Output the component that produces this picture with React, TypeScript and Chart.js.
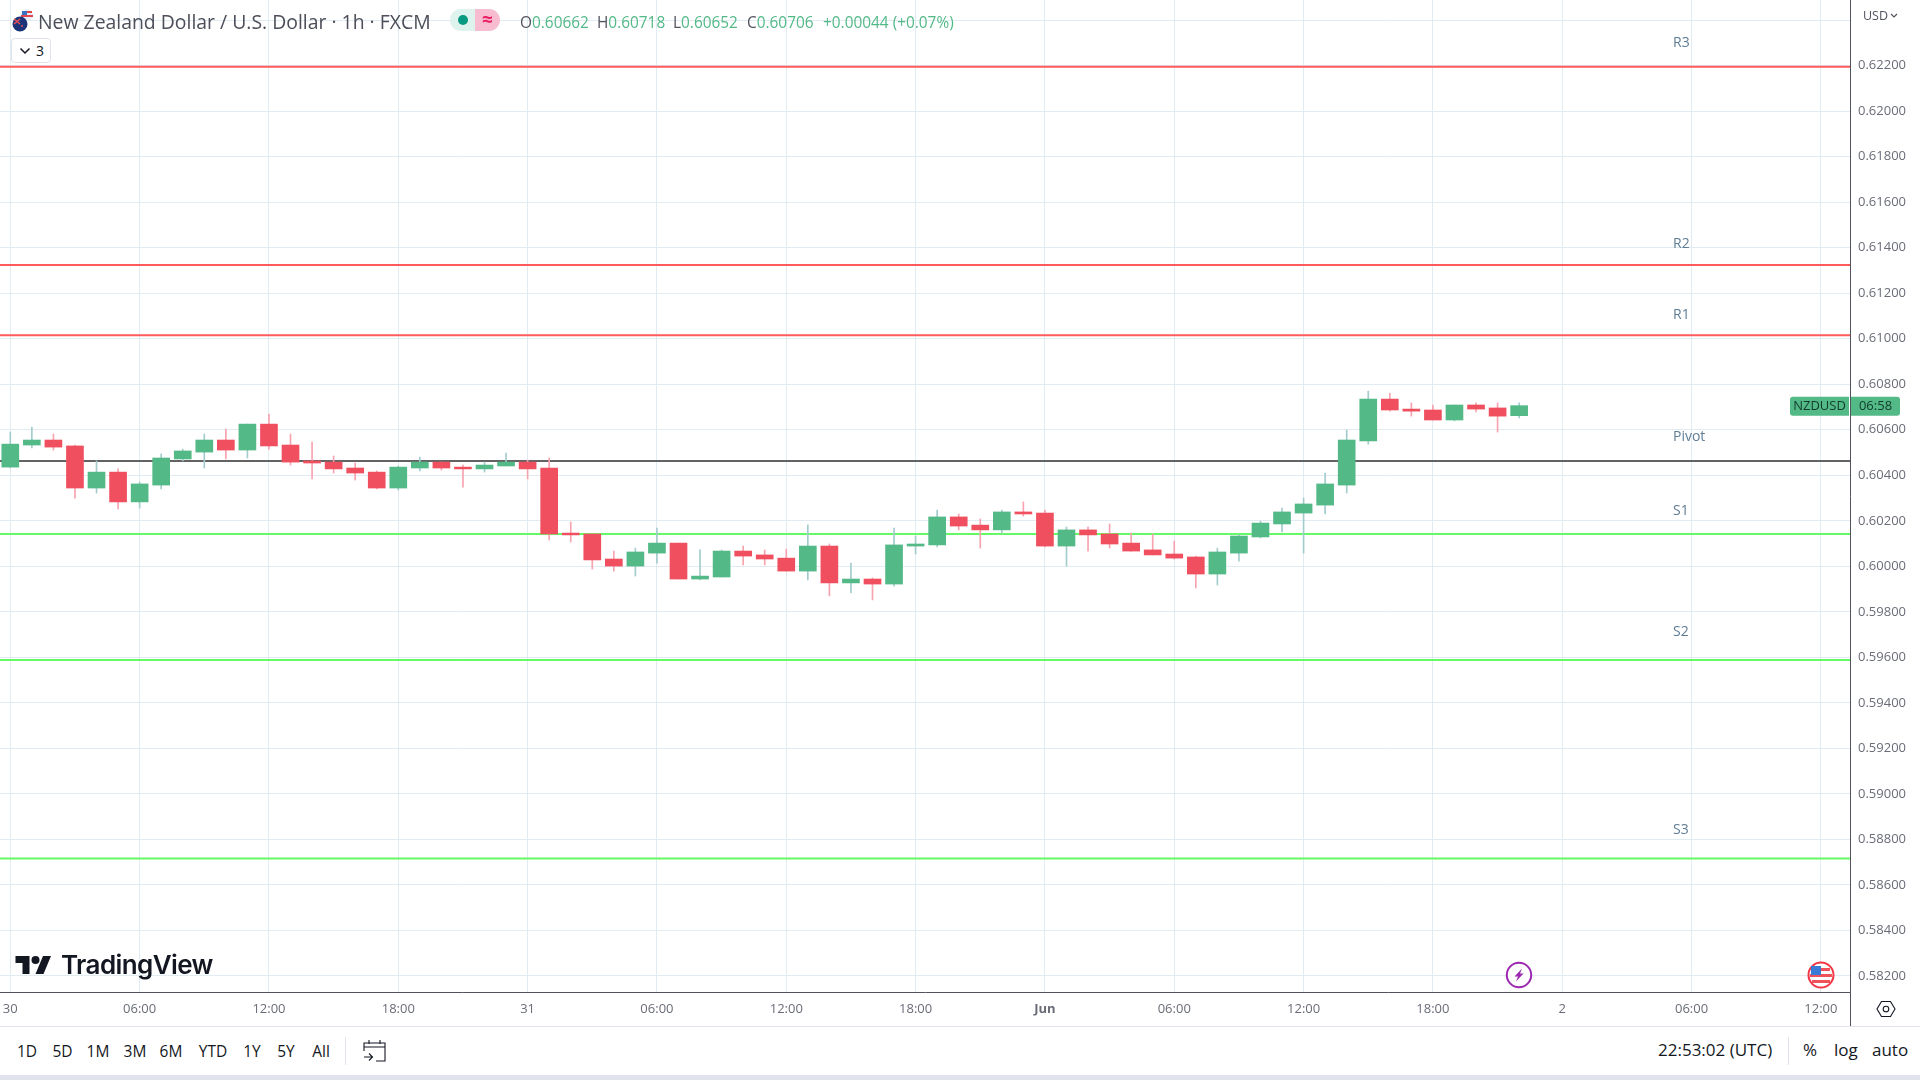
import React, { useRef, useEffect } from 'react';
import { Chart, registerables } from 'chart.js';

Chart.register(...registerables);

const opens = [0.60436, 0.60533, 0.60555, 0.60529, 0.60344, 0.60414, 0.60283, 0.60357, 0.60472, 0.60502, 0.60555, 0.60511, 0.60625, 0.60533, 0.60463, 0.60458, 0.60432, 0.60414, 0.60344, 0.60432, 0.60458, 0.60436, 0.60428, 0.60441, 0.60458, 0.60432, 0.60146, 0.60142, 0.60032, 0.60001, 0.60058, 0.60102, 0.59944, 0.59953, 0.60067, 0.6005, 0.60036, 0.59979, 0.60089, 0.59927, 0.59944, 0.59922, 0.60089, 0.60094, 0.60217, 0.60181, 0.6016, 0.60239, 0.60234, 0.60089, 0.6016, 0.60142, 0.60102, 0.60072, 0.60054, 0.60041, 0.59966, 0.60058, 0.60129, 0.60186, 0.60234, 0.60269, 0.60357, 0.60551, 0.60735, 0.60691, 0.60687, 0.60643, 0.60709, 0.60696, 0.60662];
const highs = [0.6059, 0.60612, 0.60581, 0.60533, 0.60463, 0.60428, 0.6037, 0.60494, 0.60515, 0.60581, 0.60603, 0.60625, 0.60669, 0.60581, 0.60546, 0.60485, 0.60454, 0.60419, 0.60441, 0.6048, 0.60458, 0.60445, 0.60458, 0.60498, 0.60467, 0.60476, 0.60195, 0.60142, 0.60067, 0.6008, 0.60168, 0.60102, 0.60072, 0.60072, 0.60089, 0.60072, 0.60076, 0.60182, 0.60098, 0.60014, 0.59949, 0.60168, 0.60133, 0.60247, 0.6023, 0.60208, 0.60247, 0.60283, 0.60247, 0.60173, 0.60173, 0.60186, 0.60146, 0.60142, 0.60111, 0.60045, 0.6008, 0.60138, 0.60199, 0.60256, 0.603, 0.6041, 0.60599, 0.6077, 0.60761, 0.60718, 0.60709, 0.60709, 0.60718, 0.60718, 0.60718];
const lows = [0.60433, 0.6052, 0.60511, 0.603, 0.60322, 0.60252, 0.60256, 0.6034, 0.60463, 0.60432, 0.60472, 0.60476, 0.60515, 0.60445, 0.60384, 0.6041, 0.60379, 0.6034, 0.60335, 0.60419, 0.60423, 0.60348, 0.60414, 0.60441, 0.60384, 0.60116, 0.60107, 0.59988, 0.59979, 0.59957, 0.60014, 0.59944, 0.5994, 0.59953, 0.60006, 0.60006, 0.59979, 0.5994, 0.5987, 0.59883, 0.59852, 0.59913, 0.60054, 0.60085, 0.6016, 0.6008, 0.60146, 0.60221, 0.60085, 0.60001, 0.60067, 0.6008, 0.60067, 0.6005, 0.60032, 0.59905, 0.59918, 0.60023, 0.60124, 0.60151, 0.60058, 0.6023, 0.60322, 0.60537, 0.60682, 0.6066, 0.60643, 0.60639, 0.60678, 0.6059, 0.60652];
const closes = [0.60537, 0.60555, 0.60524, 0.60344, 0.60414, 0.60283, 0.60362, 0.60476, 0.60507, 0.60555, 0.60511, 0.60625, 0.60529, 0.60458, 0.60454, 0.60428, 0.6041, 0.60344, 0.60436, 0.60458, 0.60432, 0.60428, 0.60445, 0.60458, 0.60428, 0.60142, 0.60138, 0.60028, 0.60001, 0.60063, 0.60102, 0.59944, 0.59957, 0.60067, 0.60045, 0.60032, 0.59979, 0.60089, 0.59927, 0.59944, 0.59922, 0.60094, 0.60098, 0.60217, 0.60177, 0.6016, 0.60239, 0.6023, 0.60089, 0.6016, 0.60138, 0.60098, 0.60067, 0.6005, 0.60036, 0.59966, 0.60063, 0.60133, 0.6019, 0.60239, 0.60274, 0.60362, 0.60555, 0.60735, 0.60687, 0.60682, 0.60643, 0.60709, 0.60691, 0.6066, 0.60706];

const levelNames = ['R3', 'R2', 'R1', 'Pivot', 'S1', 'S2', 'S3'];
const levelValues = [0.62196, 0.61324, 0.61015, 0.60463, 0.60142, 0.59588, 0.58716];
const levelColors = ['#ff5b5b', '#ff5b5b', '#ff5b5b', '#636363', '#66f966', '#66f966', '#66f966'];
const levelLabelLift = [23.5, 21, 20.5, 23.5, 23, 28, 28];

const yTicks = [0.582, 0.584, 0.586, 0.588, 0.59, 0.592, 0.594, 0.596, 0.598, 0.6, 0.602, 0.604, 0.606, 0.608, 0.61, 0.612, 0.614, 0.616, 0.618, 0.62, 0.622, 0.624];
const xTicks = [0, 6, 12, 18, 24, 30, 36, 42, 48, 54, 60, 66, 72, 78, 84];
const xTickLabels = ['30', '06:00', '12:00', '18:00', '31', '06:00', '12:00', '18:00', 'Jun', '06:00', '12:00', '18:00', '2', '06:00', '12:00'];
const lastClose = 0.60706;

const rangeButtons = [['1D', 27], ['5D', 62.5], ['1M', 98], ['3M', 135], ['6M', 171], ['YTD', 213], ['1Y', 252], ['5Y', 286], ['All', 321]] as const;
const ohlc = [['O', '0.60662', 520], ['H', '0.60718', 597], ['L', '0.60652', 673], ['C', '0.60706', 747]] as const;

const UP = '#53b987';
const DOWN = '#ef4f5f';
const FONT = '"Open Sans", sans-serif';
const X_MIN = -0.478;
const X_MAX = 85.35;

const overlays = {
  id: 'overlays',
  afterDraw(chart: any) {
    const { ctx, chartArea, scales } = chart;
    ctx.save();
    // axis line carries on through the time scale
    ctx.strokeStyle = '#50535e';
    ctx.lineWidth = 1;
    ctx.beginPath();
    ctx.moveTo(chartArea.right + 0.5, chartArea.bottom);
    ctx.lineTo(chartArea.right + 0.5, chart.height);
    ctx.stroke();

    ctx.font = `14px ${FONT}`;
    ctx.fillStyle = '#5f7d95';
    ctx.textBaseline = 'middle';
    levelNames.forEach((name, i) => {
      ctx.fillText(name, 1673, scales.y.getPixelForValue(levelValues[i]) - levelLabelLift[i]);
    });

    // last price tag
    const y = scales.y.getPixelForValue(lastClose) + 0.5;
    ctx.fillStyle = UP;
    ctx.beginPath();
    ctx.roundRect(1790, y - 9.5, 59, 19, [3, 0, 0, 3]);
    ctx.roundRect(1851, y - 9.5, 49, 19, [0, 3, 3, 0]);
    ctx.fill();
    ctx.fillStyle = '#123c2b';
    ctx.font = `13px ${FONT}`;
    ctx.textAlign = 'center';
    ctx.fillText('NZDUSD', 1819.5, y);
    ctx.fillText('06:58', 1875.5, y);
    ctx.restore();
  },
};

// tick labels must not push the plot away from the canvas edges
const noPadding = (axis: any) => {
  axis.paddingLeft = 0;
  axis.paddingRight = 0;
  axis.paddingTop = 0;
  axis.paddingBottom = 0;
};

const abs = (left: number, top: number, extra: React.CSSProperties = {}): React.CSSProperties => ({
  position: 'absolute',
  left,
  top,
  whiteSpace: 'nowrap',
  fontFamily: FONT,
  ...extra,
});

const PriceChart: React.FC = () => {
  const chartRef = useRef<HTMLCanvasElement | null>(null);

  useEffect(() => {
    if (!chartRef.current) return;
    const chart = new Chart(chartRef.current, {
      type: 'bar',
      data: {
        datasets: [
          {
            data: opens.map((o, i) => ({ x: i, y: [o, closes[i]] })),
            backgroundColor: opens.map((o, i) => (closes[i] >= o ? UP : DOWN)),
            barThickness: 17,
            order: 0,
          },
          {
            data: lows.map((l, i) => ({ x: i, y: [l, highs[i]] })),
            backgroundColor: opens.map((o, i) => (closes[i] >= o ? '#a3cccc' : '#f7a3af')),
            barThickness: 1,
            order: 1,
          },
          ...levelValues.map((v, i) => ({
            type: 'line',
            data: [{ x: X_MIN, y: v }, { x: X_MAX, y: v }],
            borderColor: levelColors[i],
            borderWidth: 2,
            pointRadius: 0,
            order: 2,
          })),
        ] as any,
      },
      options: {
        responsive: false,
        animation: false,
        grouped: false,
        layout: { padding: 0 },
        plugins: { legend: { display: false }, tooltip: { enabled: false } },
        scales: {
          x: {
            type: 'linear',
            offset: false,
            min: X_MIN,
            max: X_MAX,
            afterBuildTicks: (axis: any) => {
              axis.ticks = xTicks.map((value) => ({ value }));
            },
            afterFit: (axis: any) => {
              axis.height = 34;
              noPadding(axis);
            },
            grid: { color: '#e1ecf2', offset: false, drawTicks: false },
            border: { color: '#50535e' },
            ticks: {
              autoSkip: false,
              maxRotation: 0,
              padding: 9,
              color: '#6a6d78',
              font: (ctx: any) => ({
                family: FONT,
                size: 13,
                weight: ctx.tick?.label === 'Jun' ? 'bold' : 'normal',
              }),
              callback: (_v: any, i: number) => xTickLabels[i],
            },
          },
          y: {
            type: 'linear',
            position: 'right',
            min: 0.58129,
            max: 0.62489,
            afterBuildTicks: (axis: any) => {
              axis.ticks = yTicks.map((value) => ({ value }));
            },
            afterFit: (axis: any) => {
              axis.width = 70;
              noPadding(axis);
            },
            grid: { color: '#e1ecf2', drawTicks: false },
            border: { color: '#50535e' },
            ticks: {
              autoSkip: false,
              padding: 8,
              color: '#6a6d78',
              font: { family: FONT, size: 13 },
              callback: (v: any) => (v >= 0.6235 ? '' : Number(v).toFixed(5)),
            },
          },
        },
      } as any,
      plugins: [overlays],
    });

    return () => {
      chart.destroy();
    };
  }, []);

  return <canvas ref={chartRef} width={1920} height={1026} style={{ position: 'absolute', left: 0, top: 0, display: 'block' }} />;
};

const App: React.FC = () => {
  return (
    <div style={{ position: 'absolute', left: 0, top: 0, width: 1920, height: 1080, overflow: 'hidden', background: '#fff' }}>
      <PriceChart />

      {/* header */}
      <svg style={{ position: 'absolute', left: 11, top: 8 }} width={24} height={24} viewBox="0 0 24 24">
        <circle cx="16" cy="7" r="6" fill="#e8eef8" />
        <path d="M10 7h12v2H10zM11 3h10v2H11z" fill="#e0454f" />
        <path d="M11 3h5v4h-5z" fill="#3a6fc4" />
        <circle cx="9" cy="16" r="7.5" fill="#1c3578" />
        <path d="M3 11l6 5M9 11l-6 5" stroke="#e8505c" strokeWidth="1.5" />
        <circle cx="11" cy="18" r="1" fill="#e8505c" />
      </svg>
      <div style={abs(38, 8, { fontSize: 19.4, color: '#4c4f59' })}>New Zealand Dollar / U.S. Dollar · 1h · FXCM</div>
      <div style={abs(450, 9, { width: 25, height: 22, background: '#dff3ee', borderRadius: '11px 0 0 11px' })}>
        <div style={{ position: 'absolute', left: 8, top: 6, width: 10, height: 10, borderRadius: 5, background: '#089981' }} />
      </div>
      <div style={abs(475, 9, { width: 25, height: 22, background: '#f7bcd0', borderRadius: '0 11px 11px 0', color: '#e91e63', fontSize: 19, lineHeight: '20px', textAlign: 'center', fontWeight: 700 })}>≈</div>
      {ohlc.map(([k, v, left]) => (
        <div key={k} style={abs(left, 12, { fontSize: 15.4, color: '#50535e' })}>
          {k}
          <span style={{ color: UP }}>{v}</span>
        </div>
      ))}
      <div style={abs(823, 12, { fontSize: 15.4, color: UP })}>+0.00044 (+0.07%)</div>
      <div style={abs(11, 38, { width: 40, height: 25, boxSizing: 'border-box', border: '1px solid #e0e3eb', borderRadius: 4, background: '#fff', fontSize: 14, color: '#131722', lineHeight: '23px', paddingLeft: 24 })}>
        3
        <svg style={{ position: 'absolute', left: 7, top: 8 }} width={12} height={8} viewBox="0 0 12 8">
          <path d="M1.5 1.5L6 6l4.5-4.5" fill="none" stroke="#131722" strokeWidth="1.5" />
        </svg>
      </div>
      <div style={abs(1863, 7, { fontSize: 12.5, color: '#50535e' })}>USD</div>
      <svg style={{ position: 'absolute', left: 1890, top: 13 }} width={8} height={6} viewBox="0 0 8 6">
        <path d="M1 1l3 3 3-3" fill="none" stroke="#50535e" strokeWidth="1.2" />
      </svg>

      {/* watermark and chart badges */}
      <svg style={{ position: 'absolute', left: 15, top: 956 }} width={37} height={18} viewBox="0 4 36 18">
        <path d="M14 22H7V11H0V4h14v18zM28 22h-8l7.5-18h8L28 22z" fill="#131722" />
        <circle cx="20" cy="8" r="4" fill="#131722" />
      </svg>
      <div style={abs(61, 948, { fontSize: 26, lineHeight: '34px', fontFamily: 'Inter', fontWeight: 600, color: '#131722', letterSpacing: -0.6 })}>TradingView</div>
      <svg style={{ position: 'absolute', left: 1505, top: 961 }} width={28} height={28} viewBox="0 0 28 28">
        <circle cx="14" cy="14" r="12.2" fill="#fff" stroke="#9c27b0" strokeWidth="2" />
        <path d="M17 7.5L9.5 15.5H13L11 20.5L18.5 12.5H15Z" fill="#9c27b0" />
      </svg>
      <svg style={{ position: 'absolute', left: 1807, top: 961 }} width={28} height={28} viewBox="0 0 28 28">
        <circle cx="14" cy="14" r="12.5" fill="#fff" stroke="#f23645" strokeWidth="2" />
        <path d="M5 7h18v3H5zM3 13h22v3H3zM5 19h18v3H5z" fill="#f0525c" />
        <path d="M4 5h10v9H4z" fill="#3a7bd5" />
      </svg>

      {/* bottom toolbar */}
      <div style={{ position: 'absolute', left: 0, top: 1026, width: 1920, height: 1, background: '#e0e3eb' }} />
      {rangeButtons.map(([label, center]) => (
        <div key={label} style={{ ...abs(center - 30, 1040), width: 60, textAlign: 'center', fontSize: 15.5, color: '#131722' }}>
          {label}
        </div>
      ))}
      <div style={{ position: 'absolute', left: 345, top: 1037, width: 1, height: 28, background: '#e0e3eb' }} />
      <svg style={{ position: 'absolute', left: 362, top: 1038 }} width={25} height={25} viewBox="0 0 25 25">
        <path d="M2 13V5h21v18h-9M2 9h21M7 2v4M18 2v4M2 19h8M7 15.5l3.5 3.5L7 22.5" fill="none" stroke="#131722" strokeWidth="1.1" />
      </svg>
      <div style={abs(1658, 1038, { fontSize: 17, color: '#131722' })}>22:53:02 (UTC)</div>
      <div style={{ position: 'absolute', left: 1788, top: 1037, width: 1, height: 28, background: '#e0e3eb' }} />
      <div style={abs(1803, 1038, { fontSize: 17, color: '#131722' })}>%</div>
      <div style={abs(1834, 1038, { fontSize: 17, color: '#131722' })}>log</div>
      <div style={abs(1872, 1038, { fontSize: 17, color: '#131722' })}>auto</div>
      <svg style={{ position: 'absolute', left: 1876, top: 999 }} width={20} height={20} viewBox="0 0 20 20">
        <path d="M5.5 2.5h9L19 10l-4.5 7.5h-9L1 10z" fill="none" stroke="#131722" strokeWidth="1.1" />
        <circle cx="10" cy="10" r="2.8" fill="none" stroke="#131722" strokeWidth="1.1" />
      </svg>
      <div style={{ position: 'absolute', left: 0, top: 1075, width: 1920, height: 5, background: '#e0e3eb' }} />
    </div>
  );
};

export default App;
